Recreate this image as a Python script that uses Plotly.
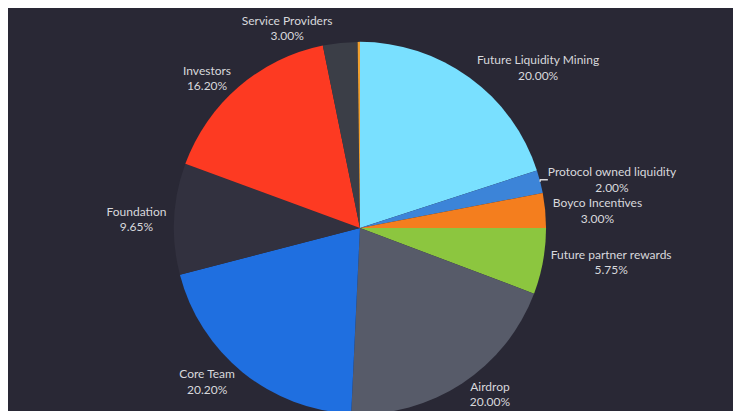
import plotly.graph_objects as go

labels = ["Future Liquidity Mining", "Protocol owned liquidity", "Boyco Incentives",
          "Future partner rewards", "Airdrop", "Core Team", "Foundation",
          "Investors", "Service Providers", "Other"]
values = [20.00, 2.00, 3.00, 5.75, 20.00, 20.20, 9.65, 16.20, 3.00, 0.20]
colors = ["#79e0ff", "#3c84d8", "#f47e1e", "#8cc63f", "#575b69", "#1f6fe0",
          "#32313f", "#fd3a22", "#3b3e47", "#f0a030"]
texts = ["%s<br>%.2f%%" % (l, v) for l, v in zip(labels, values)]
texts[-1] = ""

fig = go.Figure()
fig.add_pie(
    labels=labels, values=values, text=texts, textinfo="text",
    textposition="outside", sort=False, direction="clockwise", rotation=0,
    marker=dict(colors=colors, line=dict(width=0)),
    textfont=dict(color="#d8d8dc", size=12, family="Lato"),
    domain=dict(x=[0.18, 0.77], y=[0.0, 0.935]),
    showlegend=False, hoverinfo="label+value",
)
fig.update_layout(
    paper_bgcolor="#292835", plot_bgcolor="#292835",
    margin=dict(l=0, r=0, t=0, b=0), width=741, height=411,
)
fig.write_html("out.html")
